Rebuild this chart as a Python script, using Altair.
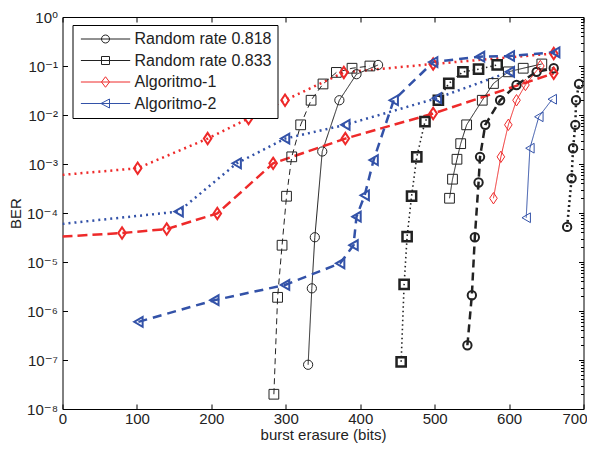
import altair as alt
import pandas as pd

LABELS = ["Random rate 0.818", "Random rate 0.833", "Algoritmo-1", "Algoritmo-2"]
COLORS = ["#222222", "#222222", "#ee2a2a", "#3352a8"]

# ---- data (x: burst erasure in bits, y: BER) ----
# Random rate 0.818 (circles)
rr818_a_x = [330, 335, 339, 349, 372, 395, 424]
rr818_a_y = [8e-8, 2.9e-6, 3.2e-5, 1.8e-3, 2.0e-2, 6.8e-2, 0.105]
rr818_b_x = [544, 550, 554, 559, 561, 568, 588, 610, 637, 660]
rr818_b_y = [2e-7, 2.1e-6, 3.2e-5, 4.2e-4, 1.4e-3, 6.3e-3, 2.0e-2, 4.1e-2, 7.6e-2, 9.0e-2]
rr818_c_x = [678, 684, 686, 689, 690, 694]
rr818_c_y = [5.2e-5, 5.1e-4, 2.1e-3, 6.3e-3, 2.0e-2, 4.3e-2]
# Random rate 0.833 (squares)
rr833_a_x = [284, 289, 295, 301, 308, 320, 334, 350, 368, 389, 413]
rr833_a_y = [2e-8, 1.9e-6, 2.2e-5, 2.2e-4, 1.4e-3, 6.3e-3, 2.0e-2, 4.3e-2, 7.4e-2, 9.0e-2, 0.10]
rr833_b_x = [455, 459, 463, 469, 476, 487, 505, 519, 538, 559, 584]
rr833_b_y = [9.2e-8, 3.5e-6, 3.3e-5, 2.2e-4, 1.4e-3, 7.3e-3, 2.0e-2, 4.4e-2, 7.6e-2, 8.6e-2, 0.105]
rr833_c_x = [520, 524, 530, 535, 543, 564, 579, 599, 619, 644]
rr833_c_y = [2e-4, 4.9e-4, 1.25e-3, 2.6e-3, 6.3e-3, 2.0e-2, 4.4e-2, 7.6e-2, 9.0e-2, 0.11]
# Algoritmo-1 (diamonds)
alg1_a_x = [0, 101, 195, 250, 299, 378, 498, 660]
alg1_a_y = [6e-4, 8.2e-4, 3.3e-3, 8.5e-3, 2.0e-2, 7.4e-2, 0.11, 0.18]
alg1_b_x = [0, 80, 140, 208, 283, 380, 498, 660]
alg1_b_y = [3.3e-5, 3.9e-5, 4.7e-5, 9.8e-5, 1.03e-3, 3.3e-3, 1.07e-2, 7.1e-2]
alg1_c_x = [579, 589, 599, 610, 622, 642]
alg1_c_y = [2e-4, 1.4e-3, 6.3e-3, 2.0e-2, 4.1e-2, 0.10]
# Algoritmo-2 (left triangles)
alg2_a_x = [0, 156, 234, 299, 380, 503, 601]
alg2_a_y = [6e-5, 1.07e-4, 1.03e-3, 3.3e-3, 6.3e-3, 2.2e-2, 7.6e-2]
alg2_b_x = [102, 204, 299, 373, 391, 395, 406, 418, 445, 498, 561, 601, 662]
alg2_b_y = [6e-7, 1.66e-6, 3.4e-6, 9.4e-6, 2.2e-5, 8.4e-5, 2.3e-4, 1.2e-3, 2.0e-2, 0.12, 0.155, 0.16, 0.19]
alg2_c_x = [623, 628, 640, 658]
alg2_c_y = [8e-5, 2.1e-3, 9.2e-3, 2.1e-2]

# tick values / labels
x_ticks = [0, 100, 200, 300, 400, 500, 600, 700]
y_major = [1e-8, 1e-7, 1e-6, 1e-5, 1e-4, 1e-3, 1e-2, 1e-1, 1.0]
y_labels = ["10⁻⁸", "10⁻⁷", "10⁻⁶", "10⁻⁵", "10⁻⁴", "10⁻³", "10⁻²", "10⁻¹", "10⁰"]
y_minor = [k * 10.0 ** e for e in range(-8, 0) for k in range(2, 10)]

# ---- styles: (label index, line width, dash, marker stroke width, marker size) ----
series = [
    ("rr818_a", 0, rr818_a_x, rr818_a_y, 1.0, [1, 0], 1.0, 85),
    ("rr818_b", 0, rr818_b_x, rr818_b_y, 2.5, [8, 5], 2.0, 70),
    ("rr818_c", 0, rr818_c_x, rr818_c_y, 2.5, [2, 3], 2.0, 70),
    ("rr833_a", 1, rr833_a_x, rr833_a_y, 1.0, [6, 4], 1.0, 95),
    ("rr833_b", 1, rr833_b_x, rr833_b_y, 1.6, [1.5, 3], 2.5, 85),
    ("rr833_c", 1, rr833_c_x, rr833_c_y, 1.0, [1, 0], 1.0, 95),
    ("alg1_a", 2, alg1_a_x, alg1_a_y, 2.5, [2, 4], 2.0, 90),
    ("alg1_b", 2, alg1_b_x, alg1_b_y, 2.5, [10, 5], 2.0, 90),
    ("alg1_c", 2, alg1_c_x, alg1_c_y, 1.0, [1, 0], 1.0, 90),
    ("alg2_a", 3, alg2_a_x, alg2_a_y, 2.5, [2, 4], 2.0, 95),
    ("alg2_b", 3, alg2_b_x, alg2_b_y, 2.5, [9, 6], 2.0, 95),
    ("alg2_c", 3, alg2_c_x, alg2_c_y, 1.0, [1, 0], 1.0, 95),
]

rows = []
for gid, li, xs, ys, lw, dash, mlw, ms in series:
    for i, (xv, yv) in enumerate(zip(xs, ys)):
        rows.append(dict(group=gid, label=LABELS[li], idx=i, x=xv, y=yv,
                         lw=lw, mlw=mlw, msize=ms, marker=bool(xv > 0)))
df = pd.DataFrame(rows)

GROUPS = [s[0] for s in series]
DASHES = [s[5] for s in series]

FONT = "Liberation Sans, Arial, DejaVu Sans, sans-serif"
TXT = "#222222"

DIAMOND = "M0,-1.2L0.8,0L0,1.2L-0.8,0Z"
MARK_SHAPES = ["circle", "square", DIAMOND, "triangle-left"]
LEG_SHAPES = [
    "M-1.12,0H8.74M4.6,0A0.8,0.8 0 1 1 3.0,0A0.8,0.8 0 1 1 4.6,0",
    "M-1.12,0H8.74M3.0,-0.8H4.6V0.8H3.0Z",
    "M-1.12,0H8.74M3.8,-1.05L4.6,0L3.8,1.05L3.0,0Z",
    "M-1.12,0H8.74M2.9,0L4.6,-0.9L4.6,0.9Z",
]

label_expr = "[" + ",".join("'%s'" % s for s in y_labels) + "][round(log(datum.value)/LN10)+8]"

xscale = alt.Scale(domain=[0, 700], nice=False, zero=False)
yscale = alt.Scale(type="log", domain=[1e-8, 1], nice=False)

common_axis = dict(domain=False, grid=False, tickColor="black", tickWidth=1)

ax_bottom = alt.Axis(values=x_ticks, format="d", tickSize=5, offset=-5, labelFlush=False,
                     labelOverlap=False, labelFont=FONT, labelFontSize=15, labelColor=TXT,
                     labelPadding=2,
                     labelOffset={"condition": {"test": "datum.value == 700", "value": -9}, "value": 0},
                     title="burst erasure (bits)", titleFont=FONT,
                     titleFontSize=15, titleFontWeight="normal", titleColor=TXT,
                     titlePadding=1, **common_axis)
ax_top = alt.Axis(orient="top", values=x_ticks, labels=False, tickSize=5, offset=-5,
                  title=None, **common_axis)
ax_left = alt.Axis(values=y_major, labelExpr=label_expr, tickSize=5, offset=-5,
                   labelOverlap=False, labelFont=FONT, labelFontSize=15, labelColor=TXT,
                   labelPadding=5, title="BER", titleFont=FONT, titleFontSize=15,
                   titleFontWeight="normal", titleColor=TXT, titlePadding=3, **common_axis)
ax_left_minor = alt.Axis(values=y_minor, labels=False, tickSize=3, offset=-3, title=None,
                         **common_axis)
ax_right = alt.Axis(orient="right", values=y_major, labels=False, tickSize=5, offset=-5,
                    title=None, **common_axis)
ax_right_minor = alt.Axis(orient="right", values=y_minor, labels=False, tickSize=3,
                          offset=-3, title=None, **common_axis)

base = alt.Chart(df)

lines = base.mark_line(clip=True).encode(
    x=alt.X("x:Q", scale=xscale, axis=ax_bottom),
    y=alt.Y("y:Q", scale=yscale, axis=ax_left),
    color=alt.Color("label:N", scale=alt.Scale(domain=LABELS, range=COLORS), legend=None),
    detail="group:N",
    order=alt.Order("idx:Q"),
    strokeDash=alt.StrokeDash("group:N", scale=alt.Scale(domain=GROUPS, range=DASHES), legend=None),
    strokeWidth=alt.StrokeWidth("lw:Q", scale=None),
)

points = base.transform_filter("datum.marker").mark_point(filled=False, clip=True, opacity=1).encode(
    x=alt.X("x:Q", scale=xscale, axis=ax_top),
    y=alt.Y("y:Q", scale=yscale, axis=ax_left_minor),
    color=alt.Color("label:N", scale=alt.Scale(domain=LABELS, range=COLORS), legend=None),
    shape=alt.Shape("label:N", scale=alt.Scale(domain=LABELS, range=MARK_SHAPES), legend=None),
    strokeWidth=alt.StrokeWidth("mlw:Q", scale=None),
    size=alt.Size("msize:Q", scale=None),
)

leg = alt.Legend(title=None, orient="none", legendX=10, legendY=8, direction="vertical",
                 symbolSize=100, symbolStrokeWidth=1, symbolOpacity=1, symbolOffset=0,
                 labelOffset=40, labelFont=FONT, labelFontSize=16, labelColor=TXT,
                 labelLimit=0, rowPadding=5.5, padding=6, fillColor="white",
                 strokeColor="black")

legend_layer = base.mark_point(opacity=0, filled=False).encode(
    x=alt.X("x:Q", scale=xscale, axis=None),
    y=alt.Y("y:Q", scale=yscale, axis=ax_right),
    color=alt.Color("label:N", scale=alt.Scale(domain=LABELS, range=COLORS), legend=leg),
    shape=alt.Shape("label:N", scale=alt.Scale(domain=LABELS, range=LEG_SHAPES), legend=leg),
)

minor_layer = base.mark_point(opacity=0).encode(
    x=alt.X("x:Q", scale=xscale, axis=None),
    y=alt.Y("y:Q", scale=yscale, axis=ax_right_minor),
)

chart = (
    alt.layer(lines, points, legend_layer, minor_layer)
    .resolve_scale(color="independent", shape="independent")
    .resolve_axis(x="independent", y="independent")
    .properties(width=521, height=392,
                autosize=alt.AutoSizeParams(type="none"),
                padding={"left": 54.5, "top": 9, "right": 3.5, "bottom": 36},
                background="white")
    .configure_view(stroke="black", strokeWidth=1)
)

chart.save("out.html", embed_options={"renderer": "svg", "actions": False})
